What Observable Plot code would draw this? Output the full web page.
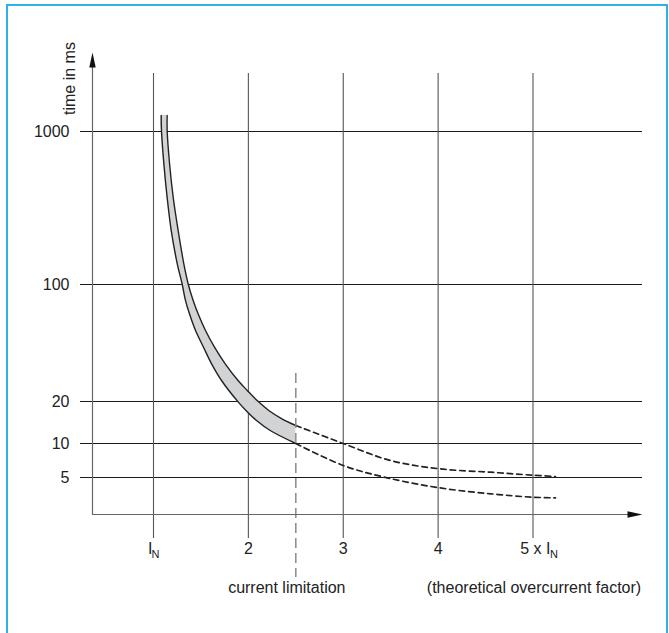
<!DOCTYPE html>
<html><head><meta charset="utf-8">
<script src="https://cdn.jsdelivr.net/npm/d3@7"></script>
<script src="https://cdn.jsdelivr.net/npm/@observablehq/plot@0.6"></script>
<style>
html,body{margin:0;padding:0;background:#fff;}
#chart{position:absolute;left:0;top:0;}
#frame{position:absolute;left:6px;top:4px;width:662px;height:700px;border:2px solid #2bb3e8;border-bottom:none;box-sizing:border-box;pointer-events:none;}
</style></head><body>
<div id="chart"></div><div id="frame"></div>
<script>
// ---- data ----
const yTicks = [5, 10, 20, 100, 1000];
const yTickLabels = ["5", "10", "20", "100", "1000"];
const xTicks = [1, 2, 3, 4, 5];
const xMidTicks = [2, 3, 4];
const xMidLabels = ["2", "3", "4"];
// tripping band: upper and lower boundary (overcurrent factor, time in ms)
const upperX = [1.144, 1.144, 1.169, 1.208, 1.260, 1.319, 1.367, 1.418, 1.470, 1.548, 1.643, 1.754, 1.891, 1.988, 2.110, 2.215, 2.349, 2.5];
const upperT = [1250, 1014, 618, 370, 225, 137, 100, 80.3, 66.8, 53.1, 42.2, 33.7, 26.7, 23.3, 19.8, 17.24, 15.1, 13.46];
const lowerX = [1.081, 1.084, 1.109, 1.144, 1.187, 1.250, 1.303, 1.337, 1.379, 1.443, 1.527, 1.611, 1.717, 1.894, 1.982, 2.086, 2.230, 2.5];
const lowerT = [1250, 1014, 618, 370, 225, 137, 100, 80.3, 66.8, 53.1, 42.2, 33.7, 26.7, 19.8, 17.05, 14.62, 12.39, 10];
// theoretical continuation beyond current limitation
const upperDashX = [2.5, 3.006, 3.498, 4.015, 4.552, 4.995, 5.237];
const upperDashT = [13.46, 9.95, 7.07, 5.97, 5.57, 5.24, 5.10];
const lowerDashX = [2.5, 3.0, 3.463, 4.015, 4.552, 4.995, 5.237];
const lowerDashT = [10, 6.39, 4.96, 3.87, 3.34, 3.07, 3.02];
const currentLimit = 2.5;
const currentLimitTop = 29.4;

// ---- axis extents (data units) ----
const axisX = 0.357, axisEndX = 6.154, gridLeftX = 0.2306;
const axisBottomT = 2, axisTopT = 3000, gridTopT = 2240;

const band = upperX.map((_, i) => i);
const dashIdx = upperDashX.map((_, i) => i);

const arrowSymbol = {
  draw(ctx) { ctx.moveTo(0, 0); ctx.lineTo(3.2, 15); ctx.lineTo(-3.2, 15); ctx.closePath(); }
};

const ink = "#222";
const plot = Plot.plot({
  width: 669, height: 633,
  margin: 0,
  style: {fontFamily: "'Liberation Sans', Arial, sans-serif", fontSize: "16px", color: ink, background: "white"},
  x: {type: "linear", domain: [1, 5], range: [153, 532.5], axis: null},
  y: {type: "log", domain: [2, 5, 10, 20, 100, 1000, 3000], range: [514, 477, 443, 401, 284, 131, 52], axis: null},
  marks: [
    // horizontal grid
    Plot.ruleY(yTicks, {y: d => d, x1: gridLeftX, x2: axisEndX, stroke: "#1a1a1a", strokeWidth: 1}),
    // vertical grid
    Plot.ruleX(xTicks, {x: d => d, y1: gridTopT, y2: axisBottomT, insetBottom: -24, stroke: "#555", strokeWidth: 1.1}),
    // band fill
    Plot.area(band, {x1: i => lowerX[i], y1: i => lowerT[i], x2: i => upperX[i], y2: i => upperT[i], fill: "#d2d3d5", curve: "catmull-rom"}),
    Plot.line(band, {x: i => upperX[i], y: i => upperT[i], stroke: ink, strokeWidth: 1.4, curve: "catmull-rom"}),
    Plot.line(band, {x: i => lowerX[i], y: i => lowerT[i], stroke: ink, strokeWidth: 1.4, curve: "catmull-rom"}),
    // dashed continuation
    Plot.line(dashIdx, {x: i => upperDashX[i], y: i => upperDashT[i], stroke: ink, strokeWidth: 1.7, strokeDasharray: "5.5,4", curve: "catmull-rom"}),
    Plot.line(dashIdx, {x: i => lowerDashX[i], y: i => lowerDashT[i], stroke: ink, strokeWidth: 1.7, strokeDasharray: "5.5,4", curve: "catmull-rom"}),
    // current limitation
    Plot.ruleX([currentLimit], {x: d => d, y1: currentLimitTop, y2: axisBottomT, insetBottom: -63, stroke: "#8a8a8a", strokeWidth: 1.5, strokeDasharray: "10,5"}),
    // axes
    Plot.ruleX([axisX], {x: d => d, y1: axisTopT, y2: axisBottomT, insetTop: 8, stroke: "#666", strokeWidth: 1.2}),
    Plot.ruleY([axisBottomT], {y: d => d, x1: axisX, x2: axisEndX, insetRight: 8, stroke: "#666", strokeWidth: 1.2}),
    Plot.dot([[axisX, axisTopT]], {x: d => d[0], y: d => d[1], symbol: arrowSymbol, fill: "#111", stroke: "none"}),
    Plot.dot([[axisEndX, axisBottomT]], {x: d => d[0], y: d => d[1], symbol: arrowSymbol, rotate: 90, fill: "#111", stroke: "none"}),
    // y tick labels
    Plot.text(yTicks, {x: axisX, y: d => d, text: (d, i) => yTickLabels[i], textAnchor: "end", dx: -23, fill: ink}),
    Plot.text(["time in ms"], {x: axisX, y: axisTopT, text: d => d, rotate: -90, dx: -23, dy: 26, fill: ink}),
    // x tick labels
    Plot.text(xMidTicks, {x: d => d, y: axisBottomT, text: (d, i) => xMidLabels[i], dy: 34.5, fill: ink}),
    Plot.text([1], {x: d => d, y: axisBottomT, text: () => "I", textAnchor: "end", dx: -1, dy: 34.5, fill: ink}),
    Plot.text([1], {x: d => d, y: axisBottomT, text: () => "N", textAnchor: "start", dx: -2, dy: 40, fontSize: 11, fill: ink}),
    Plot.text([5], {x: d => d, y: axisBottomT, text: () => "5 x I", textAnchor: "end", dx: 17.5, dy: 34.5, fill: ink}),
    Plot.text([5], {x: d => d, y: axisBottomT, text: () => "N", textAnchor: "start", dx: 17, dy: 40, fontSize: 11, fill: ink}),
    // captions
    Plot.text([currentLimit], {x: d => d, y: axisBottomT, text: () => "current limitation", dx: -9, dy: 73, fill: ink}),
    Plot.text([5], {x: d => d, y: axisBottomT, text: () => "(theoretical overcurrent factor)", dx: 1, dy: 73, fill: ink})
  ]
});
document.getElementById("chart").appendChild(plot);
</script>
</body></html>
